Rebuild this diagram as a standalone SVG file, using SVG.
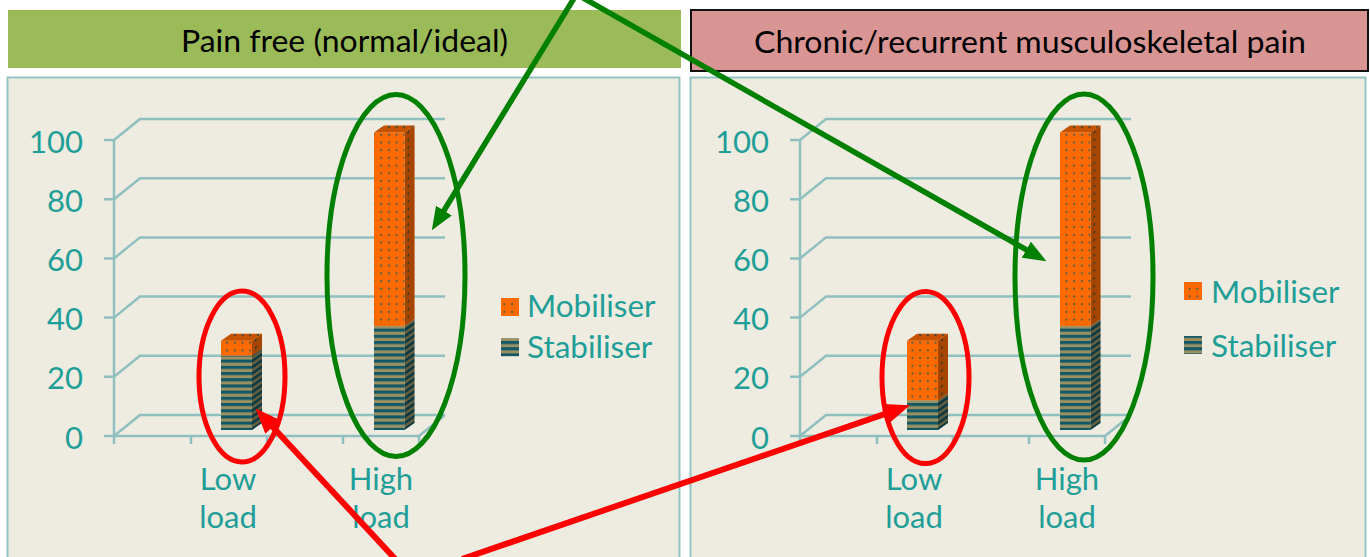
<svg xmlns="http://www.w3.org/2000/svg" width="1370" height="557" viewBox="0 0 1370 557">
  <style>
    .hdr { font-family: Lato, "Open Sans", "Liberation Sans", sans-serif; font-size: 31px; fill: #000; text-anchor: middle; }
    .panel { fill: #eeece1; stroke: #93c3c3; stroke-width: 2; }
    .grid { fill: none; stroke: #8fbfbf; stroke-width: 2.5; }
    .lbl { font-family: Lato, "Liberation Sans", sans-serif; font-size: 31px; fill: #1f9e98; }
    .ytick { text-anchor: end; }
    .cat { text-anchor: middle; }
    .leg { font-family: Lato, "Liberation Sans", sans-serif; font-size: 31.5px; fill: #1f9e98; }
    .ring { fill: none; stroke-width: 5; }
    .red { stroke: #ff0000; }
    .green { stroke: #008000; }
    .shade { fill: #000; opacity: 0.35; }
    .topshade { fill: #000; opacity: 0.22; }
  </style>
  <defs>
    <!-- stabiliser fill: alternating teal / khaki bands -->
    <pattern id="stripes" patternUnits="userSpaceOnUse" width="8" height="6.2">
      <rect width="8" height="6.2" fill="#9a9163"/>
      <rect width="8" height="3.1" fill="#135864"/>
    </pattern>
    <!-- mobiliser fill: orange with small dark dots -->
    <pattern id="dots" patternUnits="userSpaceOnUse" width="7.7" height="7.7">
      <rect width="7.7" height="7.7" fill="#ff6a00"/>
      <ellipse cx="3.85" cy="3.85" rx="0.9" ry="1.3" fill="#3b5a55"/>
    </pattern>
    <marker id="headGreen" viewBox="0 0 10 8" refX="2" refY="4" markerUnits="strokeWidth" markerWidth="4.2" markerHeight="3.4" orient="auto">
      <path d="M0,0 L10,4 L0,8 z" fill="#008000"/>
    </marker>
    <marker id="headRed" viewBox="0 0 10 8" refX="2" refY="4" markerUnits="strokeWidth" markerWidth="4.2" markerHeight="3.4" orient="auto">
      <path d="M0,0 L10,4 L0,8 z" fill="#ff0000"/>
    </marker>
    <!-- axes, grid walls and floor of one 3-D column chart -->
    <g id="axes">
      <path class="grid" d="M104,436 H114 L140,415 H445 M104,376.8 H114 L140,355.8 H445 M104,317.6 H114 L140,296.6 H445 M104,258.4 H114 L140,237.4 H445 M104,199.2 H114 L140,178.2 H445 M104,140 H114 L140,119 H445"/>
      <path class="grid" d="M114,140 V444 M114,436 H419 L445,415 M191,436 V444 M267,436 V444 M343,436 V444 M419,436 V444"/>
      <g class="lbl ytick">
        <text x="83" y="448.5">0</text>
        <text x="83" y="389.3">20</text>
        <text x="83" y="330.1">40</text>
        <text x="83" y="270.9">60</text>
        <text x="83" y="211.7">80</text>
        <text x="83" y="152.5">100</text>
      </g>
      <g class="lbl cat">
        <text x="228" y="490">Low</text>
        <text x="228" y="528">load</text>
        <text x="381" y="490">High</text>
        <text x="381" y="528">load</text>
      </g>
    </g>
  </defs>

  <rect width="1370" height="557" fill="#ffffff"/>

  <g id="header-left">
    <rect x="8" y="10" width="673" height="58" fill="#9bbb59"/>
    <text class="hdr" x="344.5" y="52" textLength="327" lengthAdjust="spacingAndGlyphs">Pain free (normal/ideal)</text>
  </g>

  <g id="header-right">
    <rect x="691" y="10" width="677" height="61" fill="#d99594" stroke="#111" stroke-width="2"/>
    <text class="hdr" x="1030" y="53" textLength="552" lengthAdjust="spacingAndGlyphs">Chronic/recurrent musculoskeletal pain</text>
  </g>

  <!-- pain-free chart -->
  <g id="chart-left">
    <rect class="panel" x="7.5" y="77.5" width="672" height="495"/>
    <use href="#axes"/>
    <g id="bar-left-low">
      <rect x="221" y="355.6" width="31" height="74.4" fill="url(#stripes)"/>
      <g transform="translate(252,0) skewY(-35)">
        <rect x="0" y="355.6" width="10" height="74.4" fill="url(#stripes)"/>
        <rect class="shade" x="0" y="355.6" width="10" height="74.4"/>
        <rect x="0" y="340.75" width="10" height="14.85" fill="url(#dots)"/>
        <rect class="shade" x="0" y="340.75" width="10" height="14.85"/>
      </g>
      <rect x="221" y="340.75" width="31" height="14.85" fill="url(#dots)"/>
      <polygon points="221,340.75 252,340.75 262,333.75 231,333.75" fill="url(#dots)"/>
      <polygon class="topshade" points="221,340.75 252,340.75 262,333.75 231,333.75"/>
    </g>
    <g id="bar-left-high">
      <rect x="374" y="325.9" width="30.5" height="104.1" fill="url(#stripes)"/>
      <g transform="translate(404.5,0) skewY(-35)">
        <rect x="0" y="325.9" width="10" height="104.1" fill="url(#stripes)"/>
        <rect class="shade" x="0" y="325.9" width="10" height="104.1"/>
        <rect x="0" y="132.5" width="10" height="193.4" fill="url(#dots)"/>
        <rect class="shade" x="0" y="132.5" width="10" height="193.4"/>
      </g>
      <rect x="374" y="132.5" width="30.5" height="193.4" fill="url(#dots)"/>
      <polygon points="374,132.5 404.5,132.5 414.5,125.5 384,125.5" fill="url(#dots)"/>
      <polygon class="topshade" points="374,132.5 404.5,132.5 414.5,125.5 384,125.5"/>
    </g>
    <g id="legend-left">
      <rect x="501" y="298" width="18" height="18" fill="url(#dots)"/>
      <text class="leg" x="527" y="317">Mobiliser</text>
      <rect x="501" y="338.2" width="18" height="18" fill="url(#stripes)"/>
      <text class="leg" x="527" y="358">Stabiliser</text>
    </g>
  </g>

  <!-- chronic pain chart -->
  <g id="chart-right">
    <rect class="panel" x="690.5" y="77.5" width="675" height="495"/>
    <use href="#axes" transform="translate(686,0)"/>
    <g id="bar-right-low">
      <rect x="907" y="400.25" width="31" height="29.75" fill="url(#stripes)"/>
      <g transform="translate(938,0) skewY(-35)">
        <rect x="0" y="400.25" width="10" height="29.75" fill="url(#stripes)"/>
        <rect class="shade" x="0" y="400.25" width="10" height="29.75"/>
        <rect x="0" y="340.75" width="10" height="59.5" fill="url(#dots)"/>
        <rect class="shade" x="0" y="340.75" width="10" height="59.5"/>
      </g>
      <rect x="907" y="340.75" width="31" height="59.5" fill="url(#dots)"/>
      <polygon points="907,340.75 938,340.75 948,333.75 917,333.75" fill="url(#dots)"/>
      <polygon class="topshade" points="907,340.75 938,340.75 948,333.75 917,333.75"/>
    </g>
    <g id="bar-right-high">
      <rect x="1060" y="325.9" width="30.5" height="104.1" fill="url(#stripes)"/>
      <g transform="translate(1090.5,0) skewY(-35)">
        <rect x="0" y="325.9" width="10" height="104.1" fill="url(#stripes)"/>
        <rect class="shade" x="0" y="325.9" width="10" height="104.1"/>
        <rect x="0" y="132.5" width="10" height="193.4" fill="url(#dots)"/>
        <rect class="shade" x="0" y="132.5" width="10" height="193.4"/>
      </g>
      <rect x="1060" y="132.5" width="30.5" height="193.4" fill="url(#dots)"/>
      <polygon points="1060,132.5 1090.5,132.5 1100.5,125.5 1070,125.5" fill="url(#dots)"/>
      <polygon class="topshade" points="1060,132.5 1090.5,132.5 1100.5,125.5 1070,125.5"/>
    </g>
    <g id="legend-right">
      <rect x="1184" y="282" width="18" height="18" fill="url(#dots)"/>
      <text class="leg" x="1211" y="303">Mobiliser</text>
      <rect x="1184" y="336" width="18" height="18" fill="url(#stripes)"/>
      <text class="leg" x="1211" y="357">Stabiliser</text>
    </g>
  </g>

  <!-- highlight rings around the columns -->
  <g id="rings">
    <ellipse class="ring red" cx="242" cy="376.5" rx="43" ry="85.5"/>
    <ellipse class="ring green" cx="396" cy="275.5" rx="69" ry="181"/>
    <ellipse class="ring red" cx="925.5" cy="377.5" rx="43.5" ry="86"/>
    <ellipse class="ring green" cx="1084" cy="277" rx="69" ry="183"/>
  </g>

  <g id="connectors" fill="none">
    <line x1="576" y1="-5" x2="441.5" y2="214.5" stroke="#008000" stroke-width="5.5" marker-end="url(#headGreen)"/>
    <line x1="578" y1="-5" x2="1030.3" y2="252" stroke="#008000" stroke-width="5.5" marker-end="url(#headGreen)"/>
    <line x1="398" y1="562" x2="269.3" y2="423.3" stroke="#ff0000" stroke-width="6" marker-end="url(#headRed)"/>
    <line x1="462" y1="559" x2="891" y2="411.8" stroke="#ff0000" stroke-width="6" marker-end="url(#headRed)"/>
  </g>
</svg>
